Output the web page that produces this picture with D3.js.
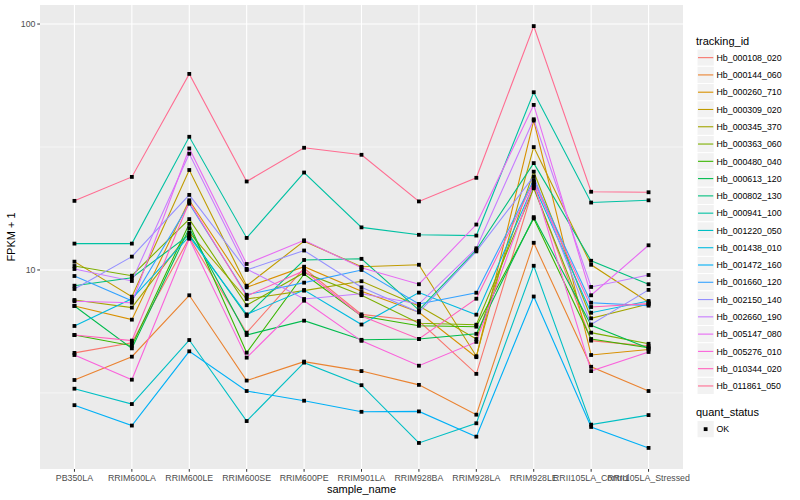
<!DOCTYPE html>
<html><head><meta charset="utf-8">
<script src="https://cdn.jsdelivr.net/npm/d3@7"></script>
<style>body{margin:0;background:#fff}svg{display:block}text{font-family:"Liberation Sans",Arial,sans-serif}</style>
</head><body><svg id="c" width="800" height="500"></svg>
<script>
const samples = ["PB350LA","RRIM600LA","RRIM600LE","RRIM600SE","RRIM600PE","RRIM901LA","RRIM928BA","RRIM928LA","RRIM928LE","RRII105LA_Control","RRII105LA_Stressed"];
const trackingIds = ["Hb_000108_020","Hb_000144_060","Hb_000260_710","Hb_000309_020","Hb_000345_370","Hb_000363_060","Hb_000480_040","Hb_000613_120","Hb_000802_130","Hb_000941_100","Hb_001220_050","Hb_001438_010","Hb_001472_160","Hb_001660_120","Hb_002150_140","Hb_002660_190","Hb_005147_080","Hb_005276_010","Hb_010344_020","Hb_011861_050"];
const colors = ["#F8766D","#EA8331","#D89000","#C09B00","#A3A500","#7CAE00","#39B600","#00BB4E","#00BF7D","#00C1A3","#00BFC4","#00BAE0","#00B0F6","#35A2FF","#9590FF","#C77CFF","#E76BF3","#FA62DB","#FF62BC","#FF6C91"];
// FPKM + 1 per series, one value per sample
const s_000108_020 = [4.60, 5.06, 13.5, 5.56, 10.16, 6.6, 6.20, 3.78, 21.8, 5.16, 4.90];
const s_000144_060 = [3.57, 4.44, 7.89, 3.55, 4.24, 3.88, 3.41, 2.58, 12.9, 4.04, 3.22];
const s_000260_710 = [7.14, 6.28, 19.2, 8.5, 10.31, 8.2, 6.73, 4.42, 40.5, 4.51, 4.75];
const s_000309_020 = [10.81, 7.79, 25.5, 8.63, 13.1, 10.3, 10.5, 4.46, 31.6, 10.5, 7.39];
const s_000345_370 = [7.55, 7.03, 14.2, 7.62, 8.24, 9.0, 7.14, 5.24, 25.1, 6.36, 7.27];
const s_000363_060 = [10.38, 9.48, 16.1, 7.19, 9.75, 7.9, 6.07, 5.99, 21.5, 5.56, 5.01];
const s_000480_040 = [5.44, 4.92, 15.4, 4.61, 9.63, 6.5, 5.93, 5.88, 16.2, 5.24, 4.83];
const s_000613_120 = [7.14, 4.80, 14.8, 5.44, 6.22, 5.2, 5.24, 5.5, 16.4, 5.96, 4.8];
const s_000802_130 = [8.63, 9.30, 13.9, 6.50, 10.98, 11.1, 6.87, 12.06, 27.2, 10.9, 8.75];
const s_000941_100 = [12.8, 12.8, 34.8, 13.5, 24.9, 14.9, 13.9, 13.8, 52.8, 18.8, 19.2];
const s_001220_050 = [3.29, 2.85, 5.19, 2.43, 4.2, 3.40, 1.98, 2.38, 10.4, 2.35, 2.57];
const s_001438_010 = [5.92, 7.63, 13.7, 6.60, 8.29, 6.0, 8.09, 6.58, 22.2, 6.70, 7.48];
const s_001472_160 = [2.82, 2.33, 4.67, 3.22, 2.94, 2.65, 2.66, 2.10, 7.8, 2.30, 1.89];
const s_001660_120 = [9.45, 7.5, 18.6, 7.93, 8.88, 10.0, 7.27, 8.08, 23.2, 7.36, 7.16];
const s_002150_140 = [8.37, 11.33, 20.2, 10.0, 12.0, 8.5, 6.73, 11.9, 24.0, 6.0, 8.3];
const s_002660_190 = [10.09, 9.02, 29.7, 10.1, 7.62, 8.0, 7.27, 12.25, 41.0, 8.53, 9.54];
const s_005147_080 = [7.46, 7.36, 31.2, 10.58, 13.2, 10.2, 8.75, 15.3, 46.9, 7.89, 12.6];
const s_005276_010 = [4.51, 3.58, 13.4, 4.4, 7.5, 5.15, 4.08, 5.1, 22.5, 3.88, 4.64];
const s_010344_020 = [5.44, 5.16, 18.9, 7.84, 9.93, 6.5, 5.24, 7.64, 22.8, 7.07, 7.3];
const s_011861_050 = [19.1, 23.9, 62.7, 22.9, 31.4, 29.4, 19.0, 23.7, 98.1, 20.8, 20.7];
const yTicks = [10, 100];
const yTickLabels = ["10", "100"];
const quantStatus = ["OK"];

const seriesValues = [s_000108_020,s_000144_060,s_000260_710,s_000309_020,s_000345_370,s_000363_060,s_000480_040,s_000613_120,s_000802_130,s_000941_100,s_001220_050,s_001438_010,s_001472_160,s_001660_120,s_002150_140,s_002660_190,s_005147_080,s_005276_010,s_010344_020,s_011861_050];
const series = trackingIds.map((id,i)=>({id, color: colors[i], values: seriesValues[i].map((v,j)=>({sample: samples[j], v}))}));

const svg = d3.select("#c");
const L = 40, R = 683, T = 5, B = 469;
const x = d3.scalePoint().domain(samples).range([L, R]).padding(0.6);
const all = seriesValues.flat();
const lmin = Math.log10(d3.min(all)), lmax = Math.log10(d3.max(all));
const ex = (lmax - lmin) * 0.05;
const y = d3.scaleLog().domain([Math.pow(10, lmin - ex), Math.pow(10, lmax + ex)]).range([B, T]);

svg.append("rect").attr("x", L).attr("y", T).attr("width", R - L).attr("height", B - T).attr("fill", "#EBEBEB");
const grid = svg.append("g");
// minor gridlines (midpoints in log space)
const minor = [Math.pow(10, 0.5), Math.pow(10, 1.5)];
grid.selectAll(".mi").data(minor).join("line").attr("x1", L).attr("x2", R)
  .attr("y1", d => y(d)).attr("y2", d => y(d)).attr("stroke", "#fff").attr("stroke-width", 0.55);
grid.selectAll(".ma").data(yTicks).join("line").attr("x1", L).attr("x2", R)
  .attr("y1", d => y(d)).attr("y2", d => y(d)).attr("stroke", "#fff").attr("stroke-width", 1.1);
grid.selectAll(".mx").data(samples).join("line").attr("y1", T).attr("y2", B)
  .attr("x1", d => x(d)).attr("x2", d => x(d)).attr("stroke", "#fff").attr("stroke-width", 1.1);

const line = d3.line().x(d => x(d.sample)).y(d => y(d.v));
svg.append("g").selectAll("path").data(series).join("path")
  .attr("d", d => line(d.values)).attr("fill", "none").attr("stroke", d => d.color).attr("stroke-width", 1.1);
const pts = svg.append("g");
series.forEach(s => {
  pts.selectAll(null).data(s.values).join("rect")
    .attr("x", d => x(d.sample) - 1.9).attr("y", d => y(d.v) - 1.9).attr("width", 3.8).attr("height", 3.8).attr("fill", "#000");
});

// y axis
const ya = svg.append("g");
yTicks.forEach((t, i) => {
  ya.append("line").attr("x1", L - 2.75).attr("x2", L).attr("y1", y(t)).attr("y2", y(t)).attr("stroke", "#333").attr("stroke-width", 1);
  ya.append("text").attr("x", L - 4.5).attr("y", y(t) + 3.2).attr("text-anchor", "end").attr("font-size", 8.8).attr("fill", "#4D4D4D").text(yTickLabels[i]);
});
// x axis
const xa = svg.append("g");
samples.forEach(s => {
  xa.append("line").attr("x1", x(s)).attr("x2", x(s)).attr("y1", B).attr("y2", B + 2.75).attr("stroke", "#333").attr("stroke-width", 1);
  xa.append("text").attr("x", x(s)).attr("y", B + 11.5).attr("text-anchor", "middle").attr("font-size", 8.8).attr("fill", "#4D4D4D").text(s);
});
svg.append("text").attr("x", (L + R) / 2).attr("y", 493).attr("text-anchor", "middle").attr("font-size", 11).attr("fill", "#000").text("sample_name");
svg.append("text").attr("transform", `translate(15,${(T + B) / 2}) rotate(-90)`).attr("text-anchor", "middle").attr("font-size", 11).attr("fill", "#000").text("FPKM + 1");

// legend: tracking_id
const lg = svg.append("g");
lg.append("text").attr("x", 696).attr("y", 44.5).attr("font-size", 11).text("tracking_id");
const k0 = 49, kh = 17.28, kx = 697, kw = 17.28;
series.forEach((s, i) => {
  const ky = k0 + i * kh;
  lg.append("rect").attr("x", kx).attr("y", ky).attr("width", kw).attr("height", kh).attr("fill", "#F2F2F2").attr("stroke", "#fff").attr("stroke-width", 1);
  lg.append("line").attr("x1", kx + 1).attr("x2", kx + kw - 1).attr("y1", ky + kh / 2).attr("y2", ky + kh / 2).attr("stroke", s.color).attr("stroke-width", 1.1);
  lg.append("text").attr("x", 716.5).attr("y", ky + kh / 2 + 3.2).attr("font-size", 8.8).text(s.id);
});
// legend: quant_status
lg.append("text").attr("x", 696).attr("y", 416.3).attr("font-size", 11).text("quant_status");
quantStatus.forEach((q, i) => {
  const ky = 420.5 + i * kh;
  lg.append("rect").attr("x", kx).attr("y", ky).attr("width", kw).attr("height", kh).attr("fill", "#F2F2F2").attr("stroke", "#fff").attr("stroke-width", 1);
  lg.append("rect").attr("x", kx + kw / 2 - 1.9).attr("y", ky + kh / 2 - 1.9).attr("width", 3.8).attr("height", 3.8).attr("fill", "#000");
  lg.append("text").attr("x", 716.5).attr("y", ky + kh / 2 + 3.2).attr("font-size", 8.8).text(q);
});
</script></body></html>
